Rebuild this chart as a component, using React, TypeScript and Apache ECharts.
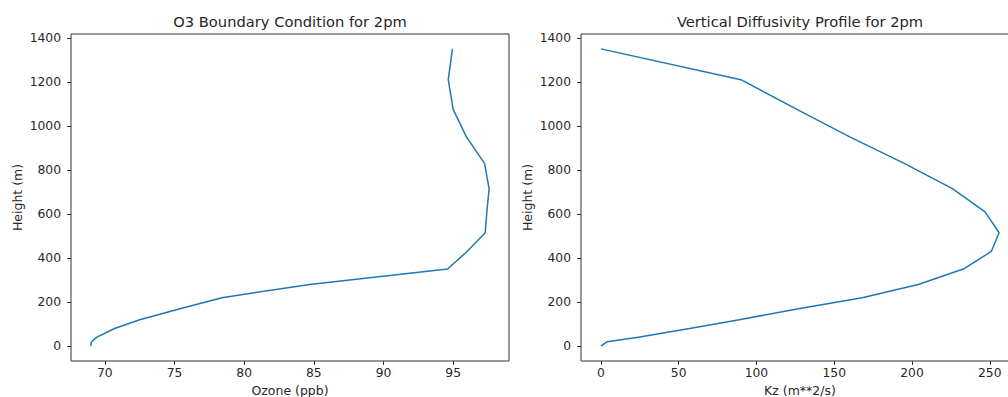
import React, { useEffect, useRef } from "react";
import * as echarts from "echarts";

const heights = [0, 10, 20, 40, 80, 120, 170, 220, 280, 350, 430, 515, 610, 715, 830, 950, 1075, 1210, 1350];
const ozone = [69.0, 69.0, 69.05, 69.4, 70.7, 72.5, 75.4, 78.4, 84.7, 94.6, 96.0, 97.3, 97.42, 97.58, 97.25, 95.95, 95.0, 94.65, 94.95];
const kz = [0, 2, 4, 24, 57, 89, 127, 168, 204, 233, 251, 256, 247, 226, 195, 160, 126, 90, 0];

const ozoneTicks = [70, 75, 80, 85, 90, 95];
const kzTicks = [0, 50, 100, 150, 200, 250];
const heightTicks = [0, 200, 400, 600, 800, 1000, 1200, 1400];

const titles = ["O3 Boundary Condition for 2pm", "Vertical Diffusivity Profile for 2pm"];
const xNames = ["Ozone (ppb)", "Kz (m**2/s)"];
const yName = "Height (m)";

const FONT = "DejaVu Sans";
const TEXT = "#262626";
const SPINE = "#333333";
const TICK_FS = 12.3;
const LABEL_FS = 12.5;
const TITLE_FS = 14.7;

function padRange(vals: number[]) {
  const mn = Math.min(...vals);
  const mx = Math.max(...vals);
  const p = (mx - mn) * 0.05;
  return [mn - p, mx + p];
}

export default function App() {
  const ref = useRef<HTMLDivElement>(null);
  useEffect(() => {
    if (!ref.current) return;
    const chart = echarts.init(ref.current, undefined, { renderer: "svg" });
    const xr0 = padRange(ozone);
    const xr1 = padRange(kz);
    const yr = padRange(heights);
    const axisCommonX = (idx: number, range: number[], ticks: number[], name: string) => ({
      type: "value",
      gridIndex: idx,
      min: range[0],
      max: range[1],
      name,
      nameLocation: "middle",
      nameGap: 23,
      nameTextStyle: { fontFamily: FONT, fontSize: LABEL_FS, color: TEXT },
      axisLine: { show: false, onZero: false },
      splitLine: { show: false },
      axisTick: { show: true, length: 4, lineStyle: { color: SPINE }, customValues: ticks },
      axisLabel: { fontFamily: FONT, fontSize: TICK_FS, color: TEXT, margin: 6, customValues: ticks,
        formatter: (v: number) => String(v) },
    });
    const axisCommonY = (idx: number) => ({
      type: "value",
      gridIndex: idx,
      min: yr[0],
      max: yr[1],
      name: yName,
      nameLocation: "middle",
      nameGap: 47.5,
      nameTextStyle: { fontFamily: FONT, fontSize: LABEL_FS, color: TEXT },
      axisLine: { show: false, onZero: false },
      splitLine: { show: false },
      axisTick: { show: true, length: 4, lineStyle: { color: SPINE }, customValues: heightTicks },
      axisLabel: { fontFamily: FONT, fontSize: TICK_FS, color: TEXT, margin: 10, customValues: heightTicks,
        formatter: (v: number) => String(v) },
    });
    const gridCommon = {
      show: true, borderColor: SPINE, borderWidth: 1, backgroundColor: "transparent",
      containLabel: false, outerBoundsMode: "none",
    };
    chart.setOption({
      animation: false,
      backgroundColor: "#ffffff",
      title: [
        { text: titles[0], left: 290, top: 14, textAlign: "center", padding: 0,
          textStyle: { fontFamily: FONT, fontSize: TITLE_FS, fontWeight: "normal", color: TEXT } },
        { text: titles[1], left: 800, top: 14, textAlign: "center", padding: 0,
          textStyle: { fontFamily: FONT, fontSize: TITLE_FS, fontWeight: "normal", color: TEXT } },
      ],
      grid: [
        { ...gridCommon, left: 71, top: 34, width: 438, height: 327 },
        { ...gridCommon, left: 581, top: 34, width: 438, height: 327 },
      ],
      xAxis: [axisCommonX(0, xr0, ozoneTicks, xNames[0]), axisCommonX(1, xr1, kzTicks, xNames[1])],
      yAxis: [axisCommonY(0), axisCommonY(1)],
      series: [
        {
          type: "line",
          xAxisIndex: 0,
          yAxisIndex: 0,
          data: heights.map((h, i) => [ozone[i], h]),
          showSymbol: false,
          lineStyle: { color: "#1f77b4", width: 1.5 },
          itemStyle: { color: "#1f77b4" },
        },
        {
          type: "line",
          xAxisIndex: 1,
          yAxisIndex: 1,
          data: heights.map((h, i) => [kz[i], h]),
          showSymbol: false,
          lineStyle: { color: "#1f77b4", width: 1.5 },
          itemStyle: { color: "#1f77b4" },
        },
      ],
    });
    return () => chart.dispose();
  }, []);
  return (
    <div style={{ position: "absolute", left: 0, top: 0, width: 1008, height: 397, overflow: "hidden", background: "#fff" }}>
      <div ref={ref} style={{ width: 1030, height: 397 }} />
    </div>
  );
}
